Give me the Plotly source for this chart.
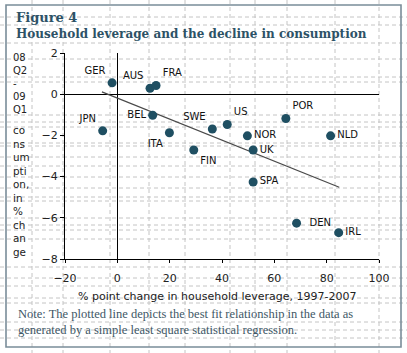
import plotly.graph_objects as go

countries = ["GER", "JPN", "AUS", "FRA", "BEL", "ITA", "FIN", "SWE", "US", "NOR", "UK", "POR", "NLD", "SPA", "DEN", "IRL"]
leverage_change = [-2.0, -5.6, 12.5, 14.8, 13.5, 19.9, 29.2, 36.3, 42.0, 49.7, 51.9, 64.4, 81.5, 51.9, 68.5, 84.6]
consumption_change = [0.55, -1.78, 0.29, 0.42, -1.02, -1.87, -2.71, -1.69, -1.47, -2.02, -2.71, -1.18, -2.02, -4.26, -6.26, -6.72]
label_positions = ["top left", "top left", "top left", "top right", "middle left", "bottom left",
                   "bottom right", "top left", "top right", "middle right", "middle right", "top right",
                   "middle right", "middle right", "middle right", "middle right"]
label_texts = ["GER", "JPN", "AUS", "FRA", "BEL", "ITA", "FIN", "SWE", "US", "NOR", "UK", "POR",
               "NLD", "SPA", "&nbsp;&nbsp;DEN", "IRL"]

fit_x = [-5.9, 84.8]
fit_y = [0.11, -4.52]

x_ticks = [-20, 0, 20, 40, 60, 80, 100]
y_range = [-8, 2]
y_step = 2

W, H = 407, 353
L, R, T, B = 65, 28, 53, 94
PW, PH = W - L - R, H - T - B


def px(xp):
    return (xp - L) / PW


def py(yp):
    return (H - B - yp) / PH


fig = go.Figure()

grid_x = [32, 63, 110, 149, 185, 230, 255, 287, 335, 379]
grid_y = [17, 25, 43, 59, 77, 82, 115, 122, 127, 143, 146, 157, 166, 177, 188, 197, 201,
          218, 225, 230, 239, 267, 278, 286, 298, 303, 322, 330, 338]
for gx in grid_x:
    fig.add_shape(type="line", xref="paper", yref="paper", x0=px(gx), x1=px(gx),
                  y0=py(0), y1=py(H), layer="below",
                  line=dict(color="#c4c4c4", width=1, dash="4px,3px"))
for gy in grid_y:
    fig.add_shape(type="line", xref="paper", yref="paper", x0=px(0), x1=px(W),
                  y0=py(gy), y1=py(gy), layer="below",
                  line=dict(color="#c4c4c4", width=1, dash="4px,3px"))
fig.add_shape(type="rect", xref="paper", yref="paper", x0=px(6), x1=px(401),
              y0=py(5), y1=py(347), layer="below",
              line=dict(color="#7a8d99", width=1.6))

fig.add_trace(go.Scatter(
    x=fit_x, y=fit_y, mode="lines",
    line=dict(color="#4a4a4a", width=1.2),
    hoverinfo="skip", showlegend=False,
))

fig.add_trace(go.Scatter(
    x=leverage_change, y=consumption_change, mode="markers+text",
    text=label_texts, textposition=label_positions,
    textfont=dict(family="DejaVu Sans", size=10, color="#111111"),
    marker=dict(color="#1f4f62", size=9),
    showlegend=False,
))

title_color = "#2d5266"
annotations = [
    dict(text="<b>Figure 4</b>", xref="paper", yref="paper", x=px(14), y=py(17),
         xanchor="left", yanchor="middle", showarrow=False,
         font=dict(family="DejaVu Serif", size=13, color=title_color)),
    dict(text="<b>Household leverage and the decline in consumption</b>", xref="paper", yref="paper",
         x=px(14), y=py(34), xanchor="left", yanchor="middle", showarrow=False,
         font=dict(family="DejaVu Serif", size=12, color=title_color)),
    dict(text="08<br>Q2<br>-<br>09<br>Q1", xref="paper", yref="paper", x=px(11), y=py(83),
         xanchor="left", yanchor="middle", align="left", showarrow=False,
         font=dict(family="DejaVu Sans", size=10, color="#222222")),
    dict(text="co<br>ns<br>um<br>pti<br>on,<br>in<br>%<br>ch<br>an<br>ge", xref="paper", yref="paper",
         x=px(11), y=py(191), xanchor="left", yanchor="middle", align="left", showarrow=False,
         font=dict(family="DejaVu Sans", size=10.4, color="#222222")),
    dict(text="% point change in household leverage, 1997-2007", xref="paper", yref="paper",
         x=px(217), y=py(296), xanchor="center", yanchor="middle", showarrow=False,
         font=dict(family="DejaVu Sans", size=11, color="#222222")),
    dict(text="Note: The plotted line depicts the best fit relationship in the data as<br>"
              "generated by a simple least square statistical regression.",
         xref="paper", yref="paper", x=px(16), y=py(322), xanchor="left", yanchor="middle",
         align="left", showarrow=False,
         font=dict(family="Liberation Serif", size=12.5, color="#3e5766")),
]

fig.update_layout(
    width=W, height=H, autosize=False,
    margin=dict(l=L, r=R, t=T, b=B),
    paper_bgcolor="white", plot_bgcolor="rgba(0,0,0,0)",
    annotations=annotations,
    showlegend=False,
)
fig.update_xaxes(
    range=[-20, 100], tickvals=x_ticks, showgrid=False,
    zeroline=True, zerolinecolor="black", zerolinewidth=1.3,
    showline=True, linecolor="black", linewidth=1.3,
    ticks="outside", ticklen=3, tickcolor="black",
    tickfont=dict(family="DejaVu Sans", size=11, color="#222222"),
    ticklabelstandoff=6,
)
fig.update_yaxes(
    range=y_range, tickmode="linear", tick0=y_range[0], dtick=y_step, showgrid=False,
    zeroline=True, zerolinecolor="black", zerolinewidth=1.3,
    showline=True, linecolor="black", linewidth=1.3,
    ticks="outside", ticklen=4, tickcolor="black",
    tickfont=dict(family="DejaVu Sans", size=11, color="#222222"),
)

fig.write_html("out.html")
